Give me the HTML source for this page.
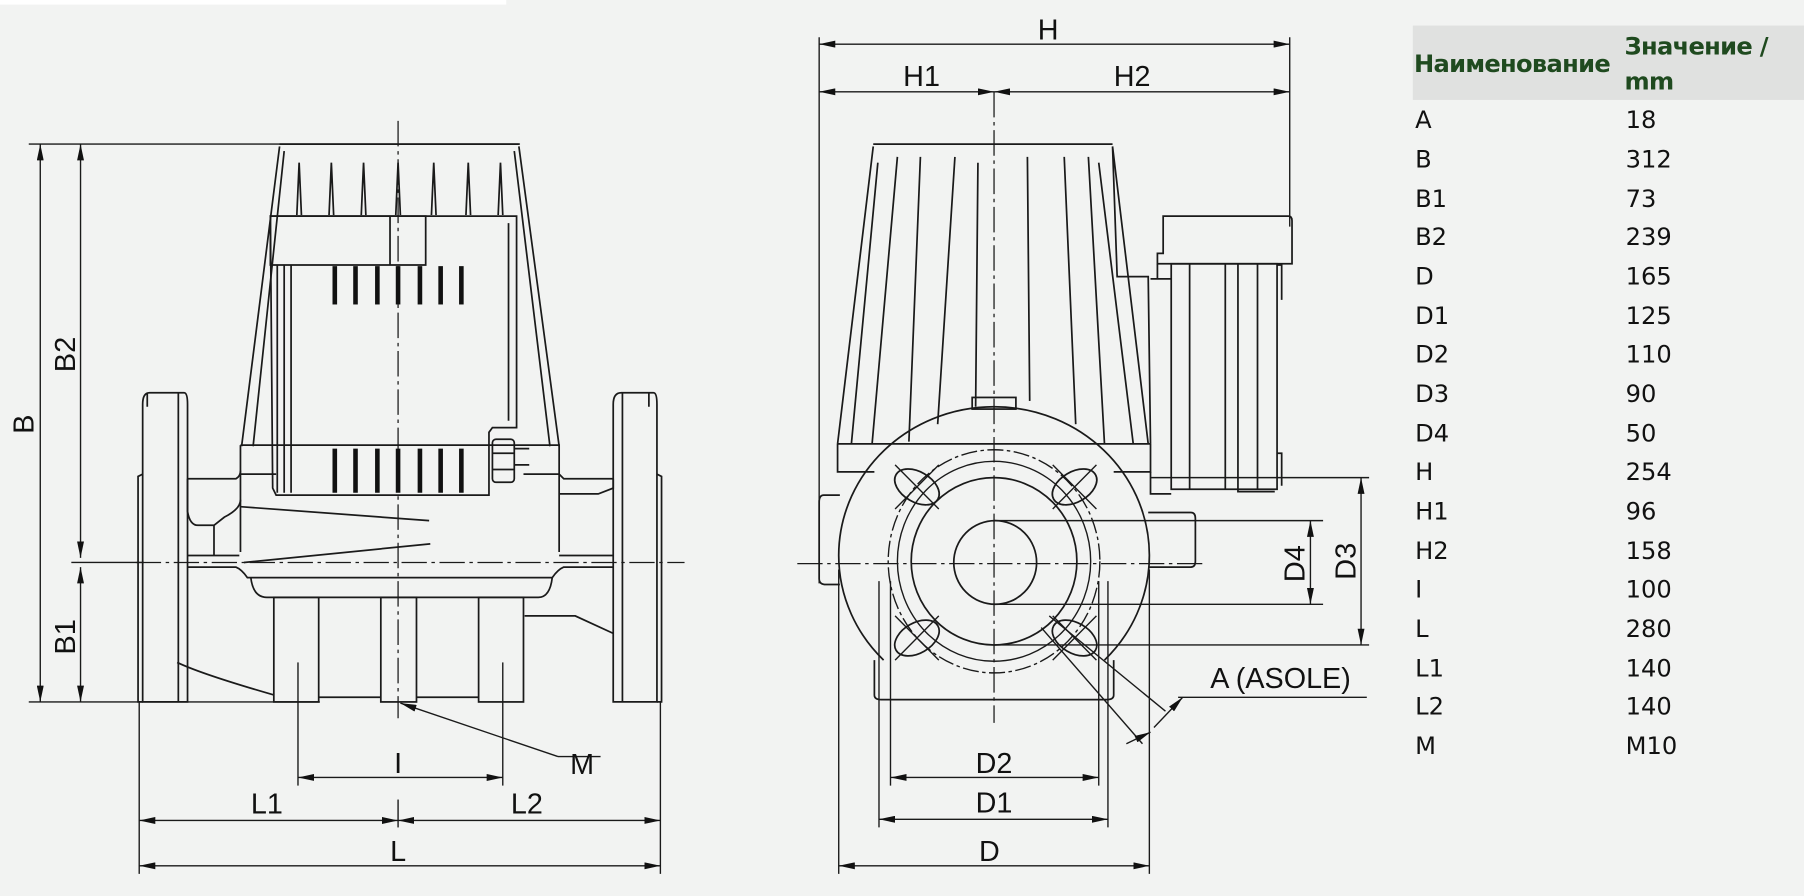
<!DOCTYPE html>
<html><head><meta charset="utf-8"><style>
html,body{margin:0;padding:0;background:#f2f3f2;}
svg{display:block;}
.l{fill:none;stroke:#1a1a1a;stroke-width:1.5}
.c{fill:none;stroke:#1a1a1a;stroke-width:1.1;stroke-dasharray:22 4 3 4}
.d{fill:none;stroke:#1a1a1a;stroke-width:1.2}
.t{font-family:"Liberation Sans",sans-serif;font-size:25px;fill:#111}
.tb{font-family:"DejaVu Sans","Liberation Sans",sans-serif;font-size:21px;fill:#111}
.th{font-family:"DejaVu Sans","Liberation Sans",sans-serif;font-size:21px;font-weight:bold;fill:#1f4a1f;letter-spacing:-0.6px}
.k{stroke:#111;stroke-width:4}
</style></head><body>
<svg width="1804" height="896" viewBox="0 0 1568 771" preserveAspectRatio="none" xmlns="http://www.w3.org/2000/svg">
<defs>
<marker id="a" viewBox="0 0 14 6" refX="14" refY="3" markerWidth="14" markerHeight="6" markerUnits="userSpaceOnUse" orient="auto-start-reverse"><path d="M0,0 L14,3 L0,6z" fill="#111"/></marker>
</defs>
<rect x="0" y="0" width="1568" height="771" fill="#f2f3f2"/>
<rect x="0" y="0" width="440" height="4" fill="#fff"/>

<!-- ===== LEFT VIEW ===== -->
<line class="c" x1="346" y1="104" x2="346" y2="618"/>
<line class="c" x1="118" y1="484" x2="595" y2="484"/>
<line class="d" x1="25" y1="124" x2="452" y2="124"/>
<line class="d" x1="25" y1="604" x2="278" y2="604"/>
<line class="d" x1="62" y1="484" x2="125" y2="484"/>
<line class="d" x1="35" y1="124" x2="35" y2="604" marker-start="url(#a)" marker-end="url(#a)"/>
<line class="d" x1="70" y1="124" x2="70" y2="480" marker-start="url(#a)" marker-end="url(#a)"/>
<line class="d" x1="70" y1="488" x2="70" y2="604" marker-start="url(#a)" marker-end="url(#a)"/>
<text class="t" transform="translate(29,365) rotate(-90)" text-anchor="middle">B</text>
<text class="t" transform="translate(65,305) rotate(-90)" text-anchor="middle">B2</text>
<text class="t" transform="translate(65,548) rotate(-90)" text-anchor="middle">B1</text>
<path class="l" d="M243,124 L451,124 M243,126 L210,384 M451,126 L486,384 M247,130 L220,384 M447,130 L478,384"/>
<path class="l" d="M258,185 L260,140 L262,185 M286,185 L288,140 L290,185 M314,185 L316,140 L318,185 M344,185 L346,140 L348,185 M375,185 L377,140 L379,185 M405,185 L407,140 L409,185 M433,185 L435,140 L437,185"/>
<path class="l" d="M235,186 L449,186 L449,368 L428,368 L425,372 L425,426 L240,426 L237,420 Z"/>
<path class="l" d="M235,186 L370,186 L370,228 L235,228 Z M339,186 L339,228"/>
<path class="l" d="M241,228 L241,424 M247,228 L247,424 M253,228 L253,424 M442,192 L442,362"/>
<g class="k">
<line x1="291" y1="229" x2="291" y2="262"/><line x1="309" y1="229" x2="309" y2="262"/><line x1="328" y1="229" x2="328" y2="262"/><line x1="346" y1="229" x2="346" y2="262"/><line x1="365" y1="229" x2="365" y2="262"/><line x1="383" y1="229" x2="383" y2="262"/><line x1="401" y1="229" x2="401" y2="262"/>
<line x1="291" y1="386" x2="291" y2="424"/><line x1="309" y1="386" x2="309" y2="424"/><line x1="328" y1="386" x2="328" y2="424"/><line x1="346" y1="386" x2="346" y2="424"/><line x1="365" y1="386" x2="365" y2="424"/><line x1="383" y1="386" x2="383" y2="424"/><line x1="401" y1="386" x2="401" y2="424"/>
</g>
<rect class="l" x="428" y="378" width="19" height="37" rx="3"/>
<path class="l" d="M428,390 L447,390 M428,404 L447,404 M447,386 L460,386 M447,400 L460,400"/>
<path class="l" d="M209,383 L486,383 L486,475 M209,383 L209,475 M209,408 L240,408 M455,408 L486,408"/>
<path class="l" d="M209,436 L373,448 M212,484 L374,468"/>
<path class="l" d="M163,488 L205,488 Q210,490 215,497 L480,497 Q485,490 490,488 L533,488"/>
<path class="l" d="M218,497 Q220,514 232,514 L468,514 Q478,514 480,497"/>
<path class="l" d="M163,478 L208,478 M486,478 L533,478"/>
<path class="l" d="M163,412 L205,412 Q209,410 209,405 M163,412 L163,440 Q165,452 172,452 L186,452 L186,478 M186,452 L195,445 Q209,438 209,430"/>
<path class="l" d="M533,412 L490,412 L486,408 M533,412 L533,420 L520,425 L486,425"/>
<path class="l" d="M154,570 Q175,580 238,598 M456,530 L500,530 L533,545"/>
<rect class="l" x="238" y="514" width="39" height="90"/>
<rect class="l" x="331" y="514" width="31" height="90"/>
<rect class="l" x="416" y="514" width="39" height="90"/>
<path class="l" d="M277,600 L331,600 M362,600 L416,600"/>
<path class="l" d="M124,348 Q124,338 130,338 L160,338 Q163,338 163,348 L163,604 L124,604 Z M128,338 L128,350 M155,338 L155,604"/>
<path class="l" d="M124,408 L120,410 L120,604 L124,604"/>
<path class="l" d="M533,348 Q533,338 540,338 L568,338 Q571,338 571,348 L571,604 L533,604 Z M541,338 L541,604 M564,338 L564,350"/>
<path class="l" d="M571,408 L575,410 L575,604 L571,604"/>
<line class="d" x1="259" y1="570" x2="259" y2="676"/>
<line class="d" x1="437" y1="570" x2="437" y2="676"/>
<line class="d" x1="259" y1="669" x2="437" y2="669" marker-start="url(#a)" marker-end="url(#a)"/>
<text class="t" x="346" y="665" text-anchor="middle">I</text>
<line class="d" x1="121" y1="604" x2="121" y2="752"/>
<line class="d" x1="574" y1="604" x2="574" y2="752"/>
<line class="d" x1="346" y1="688" x2="346" y2="712"/>
<line class="d" x1="121" y1="706" x2="346" y2="706" marker-start="url(#a)" marker-end="url(#a)"/>
<line class="d" x1="346" y1="706" x2="574" y2="706" marker-start="url(#a)" marker-end="url(#a)"/>
<line class="d" x1="121" y1="745" x2="574" y2="745" marker-start="url(#a)" marker-end="url(#a)"/>
<text class="t" x="232" y="700" text-anchor="middle">L1</text>
<text class="t" x="458" y="700" text-anchor="middle">L2</text>
<text class="t" x="346" y="741" text-anchor="middle">L</text>
<line class="d" x1="485" y1="651" x2="348" y2="605" marker-end="url(#a)"/>
<line class="d" x1="485" y1="651" x2="522" y2="651"/>
<text class="t" x="506" y="666" text-anchor="middle">M</text>

<!-- ===== RIGHT VIEW ===== -->
<line class="c" x1="864" y1="79" x2="864" y2="622"/>
<line class="c" x1="693" y1="485" x2="1045" y2="485"/>
<line class="d" x1="712" y1="32" x2="712" y2="502"/>
<line class="d" x1="1121" y1="32" x2="1121" y2="195"/>
<line class="d" x1="712" y1="38" x2="1121" y2="38" marker-start="url(#a)" marker-end="url(#a)"/>
<line class="d" x1="712" y1="79" x2="864" y2="79" marker-start="url(#a)" marker-end="url(#a)"/>
<line class="d" x1="864" y1="79" x2="1121" y2="79" marker-start="url(#a)" marker-end="url(#a)"/>
<text class="t" x="911" y="34" text-anchor="middle">H</text>
<text class="t" x="801" y="74" text-anchor="middle">H1</text>
<text class="t" x="984" y="74" text-anchor="middle">H2</text>
<path class="l" d="M759,124 L967,124 M759,126 L728,382 M967,126 L971,238 L998,238 L1000,382 M967,126 L998,382"/>
<path class="l" d="M763,140 L740,382 M780,135 L758,382 M800,135 L790,380 M830,135 L815,365 M850,140 L848,350 M893,135 L895,345 M925,135 L935,365 M946,135 L960,382 M955,140 L985,382"/>
<rect class="l" x="845" y="342" width="38" height="10"/>
<path class="l" d="M728,382 L1000,382 M728,382 L728,406 L760,406 M968,406 L1000,406 L1000,382"/>
<path class="l" d="M1000,406 L1000,425 L1018,425"/>
<path class="l" d="M730,426 L716,426 Q712,426 712,432 L712,498 Q712,503 718,503 L730,503"/>
<path class="l" d="M998,441 L1035,441 Q1039,441 1039,446 L1039,483 Q1039,488 1035,488 L998,488"/>
<path class="l" d="M1011,186 L1120,186 Q1123,186 1123,190 L1123,227 L1006,227 L1006,218 L1011,218 Z"/>
<rect class="l" x="1018" y="227" width="92" height="194"/>
<path class="l" d="M1034,227 L1034,421 M1065,227 L1065,421 M1076,227 L1076,423 L1108,423 M1093,227 L1093,421 M1110,228 L1114,228 L1114,258 M1110,390 L1114,390 L1114,418"/>
<path class="l" d="M1000,240 L1018,240 M1006,227 L1006,240"/>
<path class="l" d="M768,568 A135,128 0 1 1 960,568"/>
<path class="l" d="M760,568 L760,598 Q760,602 766,602 L962,602 Q968,602 968,598 L968,568"/>
<ellipse cx="864" cy="483" rx="92" ry="96" fill="none" stroke="#1a1a1a" stroke-width="1.2" stroke-dasharray="14 3 3 3"/>
<ellipse cx="864" cy="483" rx="84" ry="86" class="d"/>
<ellipse cx="864" cy="483" rx="72" ry="72" class="l"/>
<ellipse cx="865" cy="484" rx="36" ry="36" class="l"/>
<g class="l">
<ellipse cx="797" cy="419" rx="21" ry="13" transform="rotate(30 797 419)"/>
<ellipse cx="934" cy="419" rx="21" ry="13" transform="rotate(-30 934 419)"/>
<ellipse cx="797" cy="549" rx="21" ry="13" transform="rotate(-30 797 549)"/>
<ellipse cx="934" cy="549" rx="21" ry="13" transform="rotate(30 934 549)"/>
</g>
<path class="d" d="M778,400 L816,438 M816,400 L778,438 M915,400 L953,438 M953,400 L915,438 M778,530 L816,568 M816,530 L778,568 M915,530 L953,568 M953,530 L915,568"/>
<line class="d" x1="864" y1="448" x2="1150" y2="448"/>
<line class="d" x1="864" y1="520" x2="1150" y2="520"/>
<line class="d" x1="1000" y1="411" x2="1190" y2="411"/>
<line class="d" x1="864" y1="555" x2="1190" y2="555"/>
<line class="d" x1="1139" y1="448" x2="1139" y2="520" marker-start="url(#a)" marker-end="url(#a)"/>
<line class="d" x1="1183" y1="411" x2="1183" y2="555" marker-start="url(#a)" marker-end="url(#a)"/>
<text class="t" transform="translate(1134,485) rotate(-90)" text-anchor="middle">D4</text>
<text class="t" transform="translate(1178,483) rotate(-90)" text-anchor="middle">D3</text>
<line class="d" x1="912" y1="530" x2="1013" y2="612"/>
<line class="d" x1="905" y1="540" x2="993" y2="640"/>
<line class="d" x1="1028" y1="600" x2="1003" y2="626" marker-start="url(#a)"/>
<line class="d" x1="979" y1="640" x2="1000" y2="630" marker-end="url(#a)"/>
<line class="d" x1="1024" y1="600" x2="1188" y2="600"/>
<text class="t" x="1113" y="592" text-anchor="middle">A (ASOLE)</text>
<line class="d" x1="774" y1="500" x2="774" y2="676"/>
<line class="d" x1="955" y1="500" x2="955" y2="676"/>
<line class="d" x1="764" y1="500" x2="764" y2="712"/>
<line class="d" x1="963" y1="500" x2="963" y2="712"/>
<line class="d" x1="729" y1="490" x2="729" y2="752"/>
<line class="d" x1="999" y1="490" x2="999" y2="752"/>
<line class="d" x1="774" y1="669" x2="955" y2="669" marker-start="url(#a)" marker-end="url(#a)"/>
<line class="d" x1="764" y1="705" x2="963" y2="705" marker-start="url(#a)" marker-end="url(#a)"/>
<line class="d" x1="729" y1="745" x2="999" y2="745" marker-start="url(#a)" marker-end="url(#a)"/>
<text class="t" x="864" y="665" text-anchor="middle">D2</text>
<text class="t" x="864" y="699" text-anchor="middle">D1</text>
<text class="t" x="860" y="741" text-anchor="middle">D</text>

<!-- ===== TABLE ===== -->
<rect x="1228" y="22" width="340" height="64" fill="#e0e1e0"/>
<text class="th" x="1229" y="62">Наименование</text>
<text class="th" x="1412" y="47">Значение /</text>
<text class="th" x="1412" y="77">mm</text>
<g class="tb">
<text x="1230" y="110">A</text><text x="1413" y="110">18</text>
<text x="1230" y="144">B</text><text x="1413" y="144">312</text>
<text x="1230" y="178">B1</text><text x="1413" y="178">73</text>
<text x="1230" y="211">B2</text><text x="1413" y="211">239</text>
<text x="1230" y="245">D</text><text x="1413" y="245">165</text>
<text x="1230" y="279">D1</text><text x="1413" y="279">125</text>
<text x="1230" y="312">D2</text><text x="1413" y="312">110</text>
<text x="1230" y="346">D3</text><text x="1413" y="346">90</text>
<text x="1230" y="380">D4</text><text x="1413" y="380">50</text>
<text x="1230" y="413">H</text><text x="1413" y="413">254</text>
<text x="1230" y="447">H1</text><text x="1413" y="447">96</text>
<text x="1230" y="481">H2</text><text x="1413" y="481">158</text>
<text x="1230" y="514">I</text><text x="1413" y="514">100</text>
<text x="1230" y="548">L</text><text x="1413" y="548">280</text>
<text x="1230" y="582">L1</text><text x="1413" y="582">140</text>
<text x="1230" y="615">L2</text><text x="1413" y="615">140</text>
<text x="1230" y="649">M</text><text x="1413" y="649">M10</text>
</g>
</svg>
</body></html>
